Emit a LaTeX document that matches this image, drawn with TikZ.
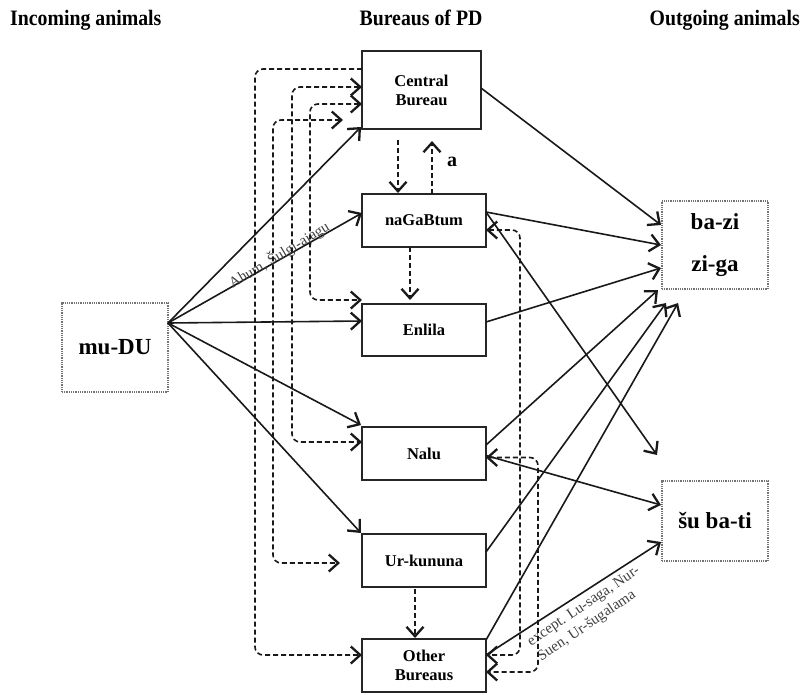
\documentclass[tikz,border=0pt]{standalone}
\usepackage{fontspec}
\setmainfont{Liberation Serif}
\usetikzlibrary{arrows.meta,calc}
\tikzset{chev/.tip={Straight Barb[length=9.5pt,width=17pt,line width=2.3pt]}}
\begin{document}
\begin{tikzpicture}[x=1pt,y=-1pt,
  bureau/.style={draw=black!85, line width=1.3pt, minimum width=124pt, minimum height=53pt,
    inner sep=0pt, outer sep=0pt, font=\fontsize{16.5}{19}\selectfont\bfseries, align=center},
  pool/.style={draw=black!55, line width=1.2pt, dash pattern=on 0.9pt off 0.9pt,
    minimum width=106pt, inner sep=0pt, outer sep=0pt, font=\fontsize{23}{42}\selectfont\bfseries, align=center},
  hdr/.style={font=\fontsize{22}{24}\selectfont\bfseries, inner sep=0pt, xscale=0.9},
  flow/.style={draw=black!90, line width=1.6pt, -chev},
  dflow/.style={draw=black!90, line width=1.6pt, dash pattern=on 5pt off 3pt, rounded corners=8pt},
  note/.style={font=\fontsize{15}{18}\selectfont, text=black!75, inner sep=0pt}
]
\useasboundingbox (0,0) rectangle (803,694);

% headers
\node[hdr, anchor=base west] (h1) at (10,25) {Incoming animals};
\node[hdr, anchor=base] (h2) at (421,25) {Bureaus of PD};
\node[hdr, anchor=base east] (h3) at (800,25) {Outgoing animals};

% pools
\node[pool, minimum height=89pt] (mudu) at (115,347.5) {mu-DU};
\node[pool, minimum height=88pt] (bz) at (715,245) {ba-zi\\zi-ga};
\node[pool, minimum height=80pt] (sb) at (715,521) {šu ba-ti};

% bureaus
\node[bureau, minimum width=119pt, minimum height=78pt] (cb) at (421.5,90) {Central\\Bureau};
\node[bureau] (ng) at (424,220.5) {naGaBtum};
\node[bureau, minimum height=52pt] (en) at (424,330) {Enlila};
\node[bureau] (na) at (424,453.5) {Nalu};
\node[bureau] (ur) at (424,560.5) {Ur-kununa};
\node[bureau] (ot) at (424,665.5) {Other\\Bureaus};

% incoming
\draw[flow] ($(mudu.east)+(0,-24.5)$) -- ($(cb.south west)+(-1,-2)$);
\draw[flow] ($(mudu.east)+(0,-24.5)$) -- ($(ng.west)+(0,-7.5)$);
\draw[flow] ($(mudu.east)+(0,-24.5)$) -- ($(en.west)+(0,-9)$);
\draw[flow] ($(mudu.east)+(0,-24.5)$) -- ($(na.north west)+(-1,-2)$);
\draw[flow] ($(mudu.east)+(0,-24.5)$) -- ($(ur.north west)+(-1,-1)$);
\node[note, rotate=31] (ahum) at (279,255) {Ahum, Šulgi-ajagu};

% outgoing to ba-zi
\draw[flow] ($(cb.east)+(0,-2)$) -- ($(bz.west)+(-1,-20)$);
\draw[flow] ($(ng.east)+(0,-8.5)$) -- ($(bz.west)+(-1,0)$);
\draw[flow] ($(en.east)+(0,-8)$) -- ($(bz.west)+(-1,23)$);
\draw[flow] ($(na.east)+(0,-8.5)$) -- ($(bz.south west)+(-4,1)$);
\draw[flow] ($(ur.east)+(0,-8.5)$) -- ($(bz.south west)+(4,14)$);
\draw[flow] ($(ot.east)+(0,-25.5)$) -- ($(bz.south west)+(16,14)$);

% outgoing to su ba-ti
\draw[flow] ($(ng.east)+(0,-8.5)$) -- ($(sb.north west)+(-5,-26)$);
\draw[flow] ($(na.east)+(0,2)$) -- ($(sb.west)+(-1,-16)$);
\draw[flow] ($(ot.east)+(0,-10.5)$) -- ($(sb.west)+(-1,21)$);
\node[note, rotate=34, align=left] (exc) at (589,614) {except. Lu-saga, Nur-\\Suen, Ur-šugalama};

% dashed right side
\draw[dflow, chev-chev] ($(ng.east)+(0,9.5)$) -- ++(34,0) |- ($(ot.east)+(0,-10.5)$);
\draw[dflow, chev-chev] ($(na.east)+(0,4)$) -- ++(52,0) |- ($(ot.east)+(0,6.5)$);

% dashed left side
\draw[dflow, -chev] ($(cb.west)+(0,-21)$) -| ($(ot.west)+(-107,-10.5)$) -- ($(ot.west)+(0,-10.5)$);
\draw[dflow, chev-chev] ($(cb.west)+(-19,30)$) -| ($(ur.west)+(-89,2.5)$) -- ($(ur.west)+(-22,2.5)$);
\draw[dflow, chev-chev] ($(cb.west)+(0,-3)$) -| ($(na.west)+(-70,-11.5)$) -- ($(na.west)+(0,-11.5)$);
\draw[dflow, chev-chev] ($(cb.west)+(0,14)$) -| ($(en.west)+(-52,-30)$) -- ($(en.west)+(0,-30)$);

% dashed vertical
\draw[dflow, -chev] ($(cb.south)+(-23.5,11)$) -- ($(ng.north)+(-26,-1)$);
\draw[dflow, -chev] ($(ng.north)+(8,0)$) -- ($(cb.south)+(10.5,12)$);
\node[font=\fontsize{20}{22}\selectfont\bfseries, inner sep=0pt] (alab) at (452,162) {a};
\draw[dflow, -chev] ($(ng.south)+(-14,0)$) -- ($(en.north)+(-14,-4)$);
\draw[dflow, -chev] ($(ur.south)+(-9,2)$) -- ($(ot.north)+(-9,-1)$);
\end{tikzpicture}
\end{document}
